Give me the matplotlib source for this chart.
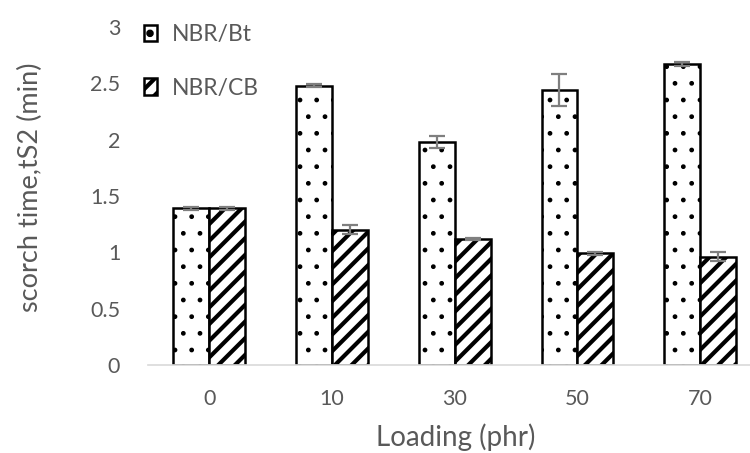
import numpy as np
import matplotlib
matplotlib.use("Agg")
import matplotlib.pyplot as plt

# data
loading = ["0", "10", "30", "50", "70"]
bt_vals = [1.39, 2.48, 1.98, 2.44, 2.67]
bt_err = [0.01, 0.01, 0.05, 0.14, 0.02]
cb_vals = [1.39, 1.20, 1.12, 0.99, 0.96]
cb_err = [0.01, 0.04, 0.01, 0.01, 0.04]

plt.rcParams["font.family"] = ["Lato", "DejaVu Sans"]
text_gray = "#595959"

fig = plt.figure(figsize=(7.5, 4.53), dpi=100)
ax = fig.add_axes([148 / 750, 1 - 365 / 453, 602 / 750, 338 / 453])

x = np.arange(len(loading))
w = 0.293
err_style = dict(ecolor="#7f7f7f", elinewidth=1.6, capsize=6, capthick=1.6)

plt.rcParams["hatch.linewidth"] = 1.0
ax.bar(x - w / 2, bt_vals, w, yerr=bt_err, color="white", edgecolor="black",
       linewidth=1.8, hatch=".", label="NBR/Bt", error_kw=err_style)
plt.rcParams["hatch.linewidth"] = 3.0
ax.bar(x + w / 2, cb_vals, w, yerr=cb_err, color="white", edgecolor="black",
       linewidth=1.8, hatch="//", label="NBR/CB", error_kw=err_style)

ax.set_xlim(-0.5, 4.406)
ax.set_ylim(0, 3)
ax.set_yticks([0, 0.5, 1, 1.5, 2, 2.5, 3])
ax.set_yticklabels(["0", "0.5", "1", "1.5", "2", "2.5", "3"])
ax.set_xticks(x)
ax.set_xticklabels(loading)
ax.tick_params(axis="both", length=0, labelsize=15.5, colors=text_gray)
ax.tick_params(axis="y", pad=20)
ax.tick_params(axis="x", pad=17)

for s in ["top", "right", "left"]:
    ax.spines[s].set_visible(False)
ax.spines["bottom"].set_color("#d9d9d9")
ax.spines["bottom"].set_linewidth(1.2)

fig.text(30 / 750, 1 - 187 / 453, "scorch time,tS2 (min)", rotation=90,
         ha="center", va="center", fontsize=19.5, color=text_gray)
fig.text(456 / 750, 1 - 437 / 453, "Loading (phr)",
         ha="center", va="center", fontsize=20, color=text_gray)

leg = ax.legend(loc="upper left", bbox_to_anchor=(133 / 750, 1 - 13 / 453),
                bbox_transform=fig.transFigure, frameon=False, fontsize=16.5,
                labelspacing=1.4, handlelength=0.55, handleheight=0.7,
                handletextpad=0.65, borderpad=0)
for t in leg.get_texts():
    t.set_color(text_gray)

fig.savefig("out.png", dpi=100)
